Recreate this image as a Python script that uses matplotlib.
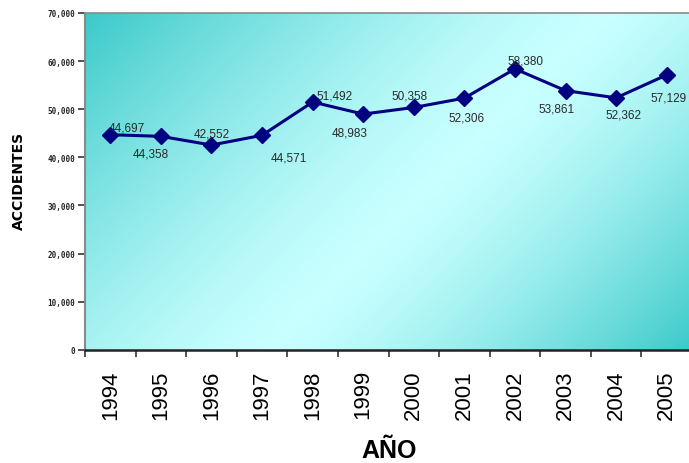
import numpy as np
import matplotlib
matplotlib.use("Agg")
import matplotlib.pyplot as plt
from matplotlib.colors import LinearSegmentedColormap

years = ["1994", "1995", "1996", "1997", "1998", "1999",
         "2000", "2001", "2002", "2003", "2004", "2005"]
accidents = [44697, 44358, 42552, 44571, 51492, 48983,
             50358, 52306, 58380, 53861, 52362, 57129]
y_ticks = [0, 10000, 20000, 30000, 40000, 50000, 60000, 70000]

# label offsets in pixels (dx, dy), dy positive upward
label_offsets = [(17, 7), (-10, -17), (0, 12), (27, -22), (22, 7), (-14, -18),
                 (-4, 12), (2, -19), (11, 8), (-9, -18), (7, -17), (2, -23)]

fig = plt.figure(figsize=(6.89, 4.64), dpi=100)
W, H = 689, 464
left, right, top, bottom = 85, 692, 14, 350.7
ax = fig.add_axes([left / W, 1 - bottom / H, (right - left) / W, (bottom - top) / H])

# diagonal teal -> pale cyan -> teal background, computed in pixel space
pw, ph = right - left, bottom - top
px = np.linspace(0, pw, 400)[None, :]
py = np.linspace(0, ph, 240)[:, None]
s = (px + py) / (pw + ph)
c = 0.55
d = np.where(s < c, (c - s) / c, (s - c) / (1 - c))
f = np.clip(d, 0, 1) ** 1.4
cmap = LinearSegmentedColormap.from_list("bg", ["#c8ffff", "#3cc9c9"])
ax.imshow(f, cmap=cmap, vmin=0, vmax=1, extent=(0, 1, 0, 1), origin="upper",
          transform=ax.transAxes, aspect="auto", zorder=0, interpolation="bilinear")

x = np.arange(len(years))
ax.plot(x, accidents, color="#000080", lw=2.2, marker="D", ms=8,
        markerfacecolor="#000080", markeredgecolor="#000080", zorder=3)

for xi, val, (dx, dy) in zip(x, accidents, label_offsets):
    ax.annotate(f"{val:,}", (xi, val), xytext=(dx, dy), textcoords="offset pixels",
                ha="center", va="center", fontsize=8.5, family="Liberation Sans",
                color="#2a2a2a", zorder=4, annotation_clip=False)

ax.set_xlim(-0.5, len(years) - 0.5)
ax.set_ylim(0, 70000)

ax.set_xticks(np.arange(-0.5, len(years), 1.0))
ax.set_xticklabels([])
ax.set_xticks(x, minor=True)
ax.set_xticklabels(years, minor=True, rotation=90, fontsize=16,
                   family="Liberation Sans", color="black")
ax.tick_params(axis="x", which="major", direction="out", length=5, width=1.2,
               color="#333333")
ax.tick_params(axis="x", which="minor", length=0, pad=14)

ax.set_yticks(y_ticks)
ax.set_yticklabels([f"{v:,}" for v in y_ticks], fontsize=5.5, fontweight="bold",
                   family="DejaVu Sans Mono", color="#222222")
ax.tick_params(axis="y", direction="out", length=5, width=1.2, color="#333333", pad=2)

for side in ("left", "top"):
    ax.spines[side].set_color("#8a8a8a")
ax.spines["left"].set_linewidth(1.5)
ax.spines["top"].set_linewidth(1.2)
ax.spines["bottom"].set_color("#222222")
ax.spines["bottom"].set_linewidth(1.8)
ax.spines["right"].set_visible(False)

fig.text(389 / W, 1 - 451 / H, "AÑO", ha="center", va="center", fontsize=18,
         fontweight="bold", family="Liberation Sans")
fig.text(19 / W, 1 - 181 / H, "ACCIDENTES", ha="center", va="center", rotation=90,
         fontsize=10, fontweight="heavy", family="DejaVu Sans")

fig.savefig("out.png", dpi=100)
